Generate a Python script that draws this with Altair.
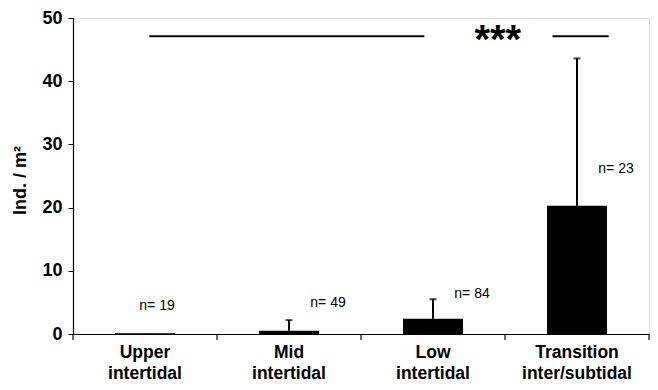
import altair as alt
import pandas as pd

categories = ["Upper|intertidal", "Mid|intertidal", "Low|intertidal", "Transition|inter/subtidal"]
means = [0.1, 0.5, 2.4, 20.3]
err_top = [0.1, 2.2, 5.5, 43.6]
n_labels = ["n= 19", "n= 49", "n= 84", "n= 23"]
n_y = [4.4, 4.9, 6.4, 26.1]

# significance annotation (x in category units, 0..4 across the axis)
sig_start = [0.53, 3.33]
sig_end = [2.44, 3.72]
sig_y = [47.1, 47.1]
star_x = [2.95]
star_y = [47.4]
star_text = ["***"]
boundaries = [0, 1, 2, 3, 4]

W, H = 576, 316
FONT = "Liberation Sans"

df = pd.DataFrame({"cat": categories, "mean": means, "err": err_top,
                   "n": n_labels, "ny": n_y})
sig = pd.DataFrame({"x": sig_start, "x2": sig_end, "y": sig_y})
stars = pd.DataFrame({"x": star_x, "y": star_y, "t": star_text})
ticks = pd.DataFrame({"b": boundaries})

yscale = alt.Scale(domain=[0, 50], nice=False)
xband = alt.X("cat:N", sort=categories, title=None,
              scale=alt.Scale(paddingInner=0, paddingOuter=0),
              axis=alt.Axis(labelExpr="split(datum.label, '|')", labelAngle=0,
                            labelFont=FONT, labelFontSize=17.5, labelFontWeight="bold",
                            labelColor="black", labelLineHeight=21, labelPadding=9,
                            ticks=False, domainColor="black", domainWidth=1.2,
                            labelBaseline="top"))
yenc = alt.Y("mean:Q", scale=yscale, title="Ind. / m²",
             axis=alt.Axis(values=[0, 10, 20, 30, 40, 50], grid=False,
                           labelFont=FONT, labelFontSize=18, labelFontWeight="bold",
                           labelColor="black", labelPadding=6, tickSize=5,
                           tickColor="black", domainColor="black", domainWidth=1.2,
                           titleFont=FONT, titleFontSize=18, titleFontWeight="bold",
                           titleColor="black", titleX=-53, titleY=H / 2 + 4,
                           titleAngle=-90, titleBaseline="middle", titleAlign="center"))

base = alt.Chart(df)
bars = base.mark_bar(size=60, color="black").encode(x=xband, y=yenc)
err_rule = base.transform_filter("datum.err > datum.mean").mark_rule(
    color="black", strokeWidth=2).encode(
    x=alt.X("cat:N", sort=categories), y=alt.Y("mean:Q", scale=yscale), y2="err:Q")
err_cap = base.transform_filter("datum.err > datum.mean").mark_tick(
    color="black", thickness=2, size=7).encode(
    x=alt.X("cat:N", sort=categories), y=alt.Y("err:Q", scale=yscale))
n_first = base.transform_filter("datum.n == 'n= 19'").mark_text(
    font=FONT, fontSize=14, color="black", dx=12, baseline="middle").encode(
    x=alt.X("cat:N", sort=categories), y=alt.Y("ny:Q", scale=yscale), text="n:N")
n_rest = base.transform_filter("datum.n != 'n= 19'").mark_text(
    font=FONT, fontSize=14, color="black", dx=39, baseline="middle").encode(
    x=alt.X("cat:N", sort=categories), y=alt.Y("ny:Q", scale=yscale), text="n:N")

xq = alt.Scale(domain=[0, 4], nice=False, zero=False)
sig_lines = alt.Chart(sig).mark_rule(color="black", strokeWidth=2).encode(
    x=alt.X("x:Q", scale=xq, axis=None), x2="x2:Q",
    y=alt.Y("y:Q", scale=yscale))
star_marks = alt.Chart(stars).mark_text(
    font=FONT, fontSize=40, fontWeight="bold", color="black", baseline="middle", dy=7).encode(
    x=alt.X("x:Q", scale=xq, axis=None), y=alt.Y("y:Q", scale=yscale), text="t:N")
xticks = alt.Chart(ticks).mark_rule(color="black", strokeWidth=1.2).encode(
    x=alt.X("b:Q", scale=xq, axis=None), y=alt.value(H), y2=alt.value(H + 6))

cats_layer = alt.layer(bars, err_rule, err_cap, n_first, n_rest)
ann_layer = alt.layer(sig_lines, star_marks, xticks)

chart = alt.layer(cats_layer, ann_layer).resolve_scale(x="independent").properties(
    width=W, height=H,
    autosize=alt.AutoSizeParams(type="none"),
    padding={"left": 65, "top": 10, "right": 1, "bottom": 48},
).configure_view(stroke=None).configure(background="white")

chart.save("out.html", embed_options={"renderer": "svg", "actions": False})
